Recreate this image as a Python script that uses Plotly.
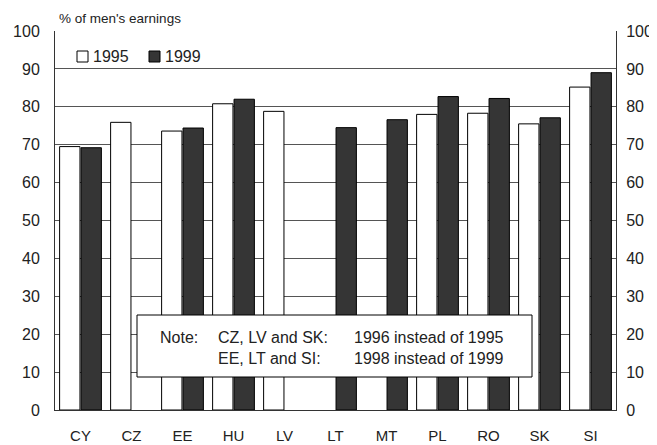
import plotly.graph_objects as go

countries = ["CY", "CZ", "EE", "HU", "LV", "LT", "MT", "PL", "RO", "SK", "SI"]
y1995 = [69.5, 75.9, 73.6, 80.8, 78.8, None, None, 78.0, 78.3, 75.5, 85.2]
y1999 = [69.2, None, 74.4, 82.0, None, 74.5, 76.6, 82.7, 82.2, 77.1, 89.0]
yticks = [0, 10, 20, 30, 40, 50, 60, 70, 80, 90, 100]
series_names = ["1995", "1999"]
series_colors = ["white", "#353535"]

FONT = "Liberation Sans, Arial, sans-serif"
OFF = 8  # page body margin
SL, SR, ST, SB = 55, 616, 31, 410  # plot area in screen pixels
W, H = 657 - OFF, 445 - OFF
L, T = SL - OFF, ST - OFF
R, B = W - (SR - OFF), H - (SB - OFF)

def px(x):
    return (x - SL) / (SR - SL)

def py(y):
    return 1 - (y - ST) / (SB - ST)

fig = go.Figure()
for vals, nm, col in zip([y1995, y1999], series_names, series_colors):
    fig.add_trace(go.Bar(x=countries, y=vals, name=nm, showlegend=False,
                         marker=dict(color=col, line=dict(color="black", width=1))))
fig.add_trace(go.Scatter(x=[countries[0]], y=[0], yaxis="y2", mode="lines",
                         showlegend=False, hoverinfo="skip"))

fig.update_layout(
    width=W, height=H,
    margin=dict(l=L, r=R, t=T, b=B, pad=0),
    paper_bgcolor="white", plot_bgcolor="white",
    font=dict(family=FONT, size=16, color="#222"),
    barmode="group", bargap=0.16, bargroupgap=0.05,
    showlegend=False,
    xaxis=dict(range=[-0.5, len(countries) - 0.5], showgrid=False, showline=True,
               linecolor="#333", linewidth=1,
               ticks="outside", ticklen=12, tickcolor="rgba(0,0,0,0)",
               tickfont=dict(size=15), automargin=False),
    yaxis=dict(range=[0, 100], tickvals=yticks, showgrid=True, gridcolor="#555",
               gridwidth=1, showline=True, linecolor="#333", linewidth=1,
               ticks="outside", ticklen=11, tickcolor="rgba(0,0,0,0)",
               tickfont=dict(size=16), zeroline=False, automargin=False),
    yaxis2=dict(range=[0, 100], tickvals=yticks, overlaying="y", side="right",
                showgrid=False, showline=True, linecolor="#333", linewidth=1,
                ticks="outside", ticklen=6, tickcolor="rgba(0,0,0,0)",
                tickfont=dict(size=16), zeroline=False, automargin=False),
)

fig.add_annotation(text="% of men's earnings", xref="paper", yref="paper",
                   x=px(57), y=py(18), xanchor="left", yanchor="middle",
                   showarrow=False, font=dict(size=13.5))

# legend drawn as boxes + text
legend_items = [(77, series_names[0], series_colors[0]), (149, series_names[1], series_colors[1])]
for x0, nm, col in legend_items:
    fig.add_shape(type="rect", xref="paper", yref="paper",
                  x0=px(x0), x1=px(x0 + 11), y0=py(62), y1=py(51),
                  fillcolor=col, line=dict(color="black", width=1))
    fig.add_annotation(text=nm, xref="paper", yref="paper", x=px(x0 + 14), y=py(56),
                       xanchor="left", yanchor="middle", showarrow=False,
                       font=dict(size=16))

fig.add_shape(type="rect", xref="paper", yref="paper",
              x0=px(137), x1=px(532), y0=py(377), y1=py(315),
              fillcolor="white", line=dict(color="black", width=1), layer="above")

notes = [
    ("Note:", 158, 337),
    ("CZ, LV and SK:", 216, 337),
    ("1996 instead of 1995", 352, 337),
    ("EE, LT and SI:", 216, 358),
    ("1998 instead of 1999", 352, 358),
]
for txt, xx, yy in notes:
    fig.add_annotation(text=txt, xref="paper", yref="paper", x=px(xx), y=py(yy),
                       xanchor="left", yanchor="middle", showarrow=False,
                       font=dict(size=16))

fig.write_html("out.html")
